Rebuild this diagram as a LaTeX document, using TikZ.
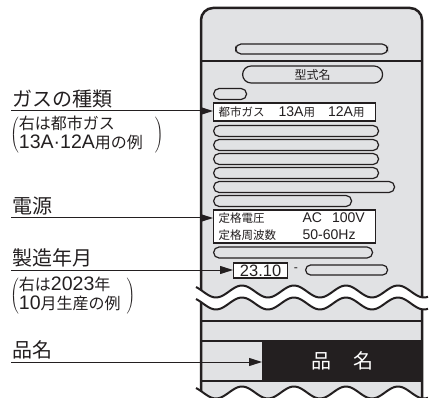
\documentclass[tikz,border=0pt]{standalone}
\usepackage{fontspec}
\setmainfont{Noto Sans CJK JP}
\newfontfamily\latn[Scale=1.22]{Liberation Sans}
\usetikzlibrary{arrows.meta}
\definecolor{bodygray}{RGB}{225,226,228}
\definecolor{inkblack}{RGB}{35,31,32}

\begin{document}
\begin{tikzpicture}[x=1pt,y=-1pt,
  every node/.style={text=inkblack},
  pill/.style={draw=inkblack, fill=bodygray, line width=1.2pt, rounded corners=5.5pt, minimum height=11pt, inner sep=0pt, anchor=west},
  wbox/.style={draw=inkblack, fill=white, line width=1.2pt, inner sep=0pt, anchor=west},
  lbl/.style={font=\fontsize{20}{24}\selectfont, anchor=south west, inner xsep=1pt, inner ysep=3pt},
  note/.style={anchor=west, inner sep=0pt},
  arr/.style={draw=inkblack, line width=1pt, -{Triangle[length=13pt,width=8pt]}},
  wave/.style={draw=inkblack, line width=2pt}]
\useasboundingbox (0,0) rectangle (431,398);

\filldraw [fill=bodygray, draw=inkblack, line width=2.5pt, rounded corners=12pt] (201,405) -- (201,8) -- (422,8) -- (422,405);
\draw [inkblack, line width=2pt] (201,61) -- (422,61);

\node [pill, minimum width=152, minimum height=10] (toppill) at (235,49) {};
\node [pill, minimum width=140, minimum height=17, rounded corners=8.5pt, font=\fontsize{12}{12}\selectfont] (model) at (242,74.5) {型式名};
\node [pill, minimum width=33] (smallpill) at (213,94) {};
\node [wbox, minimum height=18, text width=152, inner xsep=5pt, align=left, font=\fontsize{11.5}{13}\selectfont] (gasbox) at (213,112) {都市ガス\hspace{14pt}{\latn 13A}用\hspace{13pt}{\latn 12A}用};
\foreach \yy/\ww [count=\i] in {131/165,145/165,159/165,173/165,187/181,201/138,252.5/159}
  \node [pill, minimum width=\ww] (row\i) at (213,\yy) {};
\node [wbox, minimum height=33, text width=152, inner xsep=5pt, align=left, font=\fontsize{11.5}{16.5}\selectfont] (pwrbox) at (213,226.5) {\makebox[84pt][l]{定格電圧}{\latn AC\hspace{10pt}100V}\\\makebox[84pt][l]{定格周波数}{\latn 50-60Hz}};
\node [wbox, minimum width=54, minimum height=15, font=\fontsize{13.5}{13.5}\selectfont\latn] (datebox) at (233,270.5) {23.10};
\node [font=\fontsize{10}{10}\selectfont\latn, inner sep=0pt] (dash) at (296,270) {-};
\node [pill, minimum width=82, minimum height=10, rounded corners=5pt] (datepill) at (305,270) {};

\node [lbl] (gaslbl) at (11,111) {ガスの種類};
\node [note, font=\fontsize{16}{17}\selectfont] (gasnote) at (10,135) {$\left(\begin{tabular}{@{}l@{}}右は都市ガス\\{\latn 13A·12A}用の例\end{tabular}\hspace{12pt}\right)$};
\node [lbl] (pwrlbl) at (11,218) {電源};
\node [lbl] (datelbl) at (11,270) {製造年月};
\node [note, font=\fontsize{16}{18}\selectfont] (datenote) at (10,296) {$\left(\begin{tabular}{@{}l@{}}右は{\latn 2023}年\\{\latn 10}月生産の例\end{tabular}\hspace{6pt}\right)$};
\node [lbl] (namelbl) at (11,362) {品名};

\draw [arr] (gaslbl.south west) -- (gaslbl.south west -| gasbox.west);
\draw [arr] (pwrlbl.south west) -- (pwrlbl.south west -| pwrbox.west);
\draw [arr] (datelbl.south west) -- (datelbl.south west -| datebox.west);

\fill [white] plot[domain=190:431, samples=90, smooth] (\x,{291.5-6*cos((\x-242)/52*360)}) -- plot[domain=431:190, samples=90, smooth] (\x,{303.5-6*cos((\x-242)/52*360)}) -- cycle;
\draw [wave] plot[domain=196:428, samples=90, smooth] (\x,{291.5-6*cos((\x-242)/52*360)});
\draw [wave] plot[domain=196:428, samples=90, smooth] (\x,{303.5-6*cos((\x-242)/52*360)});

\draw [inkblack, line width=2pt] (201,321) -- (422,321);
\draw [inkblack, line width=2pt] (201,341) -- (422,341);
\draw [inkblack, line width=2pt] (201,381) -- (422,381);
\node [fill=inkblack, text=white, minimum width=160, minimum height=40, inner sep=0pt, anchor=west, font=\fontsize{20}{20}\selectfont] (band) at (262,361) {品\hspace{22pt}名};
\draw [arr] (namelbl.south west) -- (namelbl.south west -| band.west);

\fill [white] plot[domain=190:431, samples=90, smooth] (\x,{392.5-6*cos((\x-242)/52*360)}) -- (431,410) -- (190,410) -- cycle;
\draw [wave] plot[domain=196:428, samples=90, smooth] (\x,{392.5-6*cos((\x-242)/52*360)});
\end{tikzpicture}
\end{document}
